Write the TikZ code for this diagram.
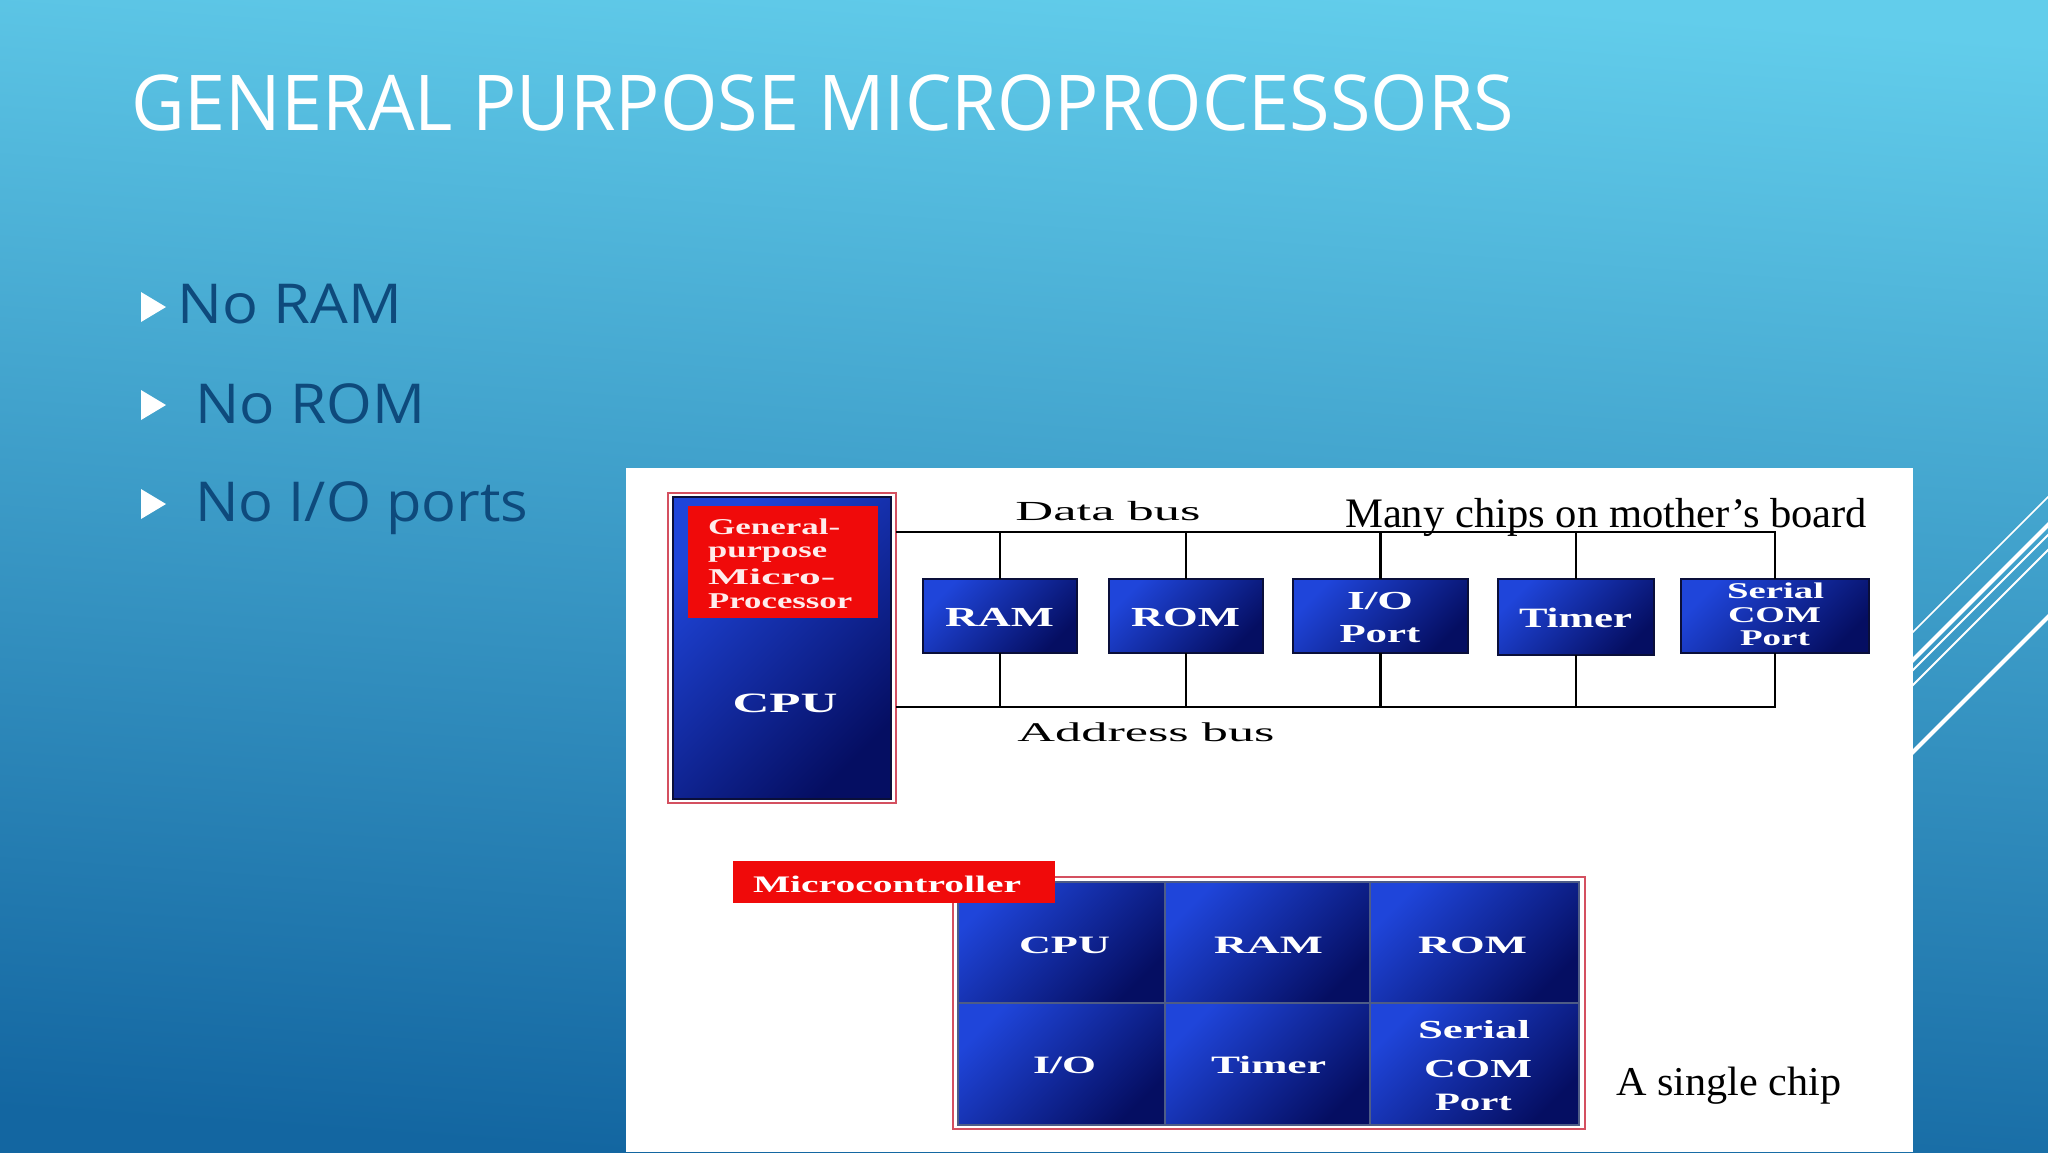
\documentclass[tikz,border=0pt]{standalone}
\usepackage{fontspec}
\usepackage{graphicx}
\setmainfont{Liberation Serif}
\newfontfamily\osans{Open Sans}
\definecolor{bgtop}{HTML}{62CDEB}
\definecolor{bgbot}{HTML}{1366A1}
\definecolor{bullettxt}{HTML}{0E4A7C}
\definecolor{chipA}{HTML}{1F45DA}
\definecolor{chipB}{HTML}{050E62}
\definecolor{chipedge}{HTML}{0A0F3A}
\definecolor{redlbl}{HTML}{F00A0A}
\definecolor{redline}{HTML}{D45060}
\definecolor{celledge}{HTML}{4E5C86}
\definecolor{pinkw}{HTML}{FFECEC}
\newcommand\fitw[2]{\resizebox{#1pt}{\height}{#2}}
\begin{document}
\begin{tikzpicture}[x=1pt,y=-1pt,
  box/.style={inner sep=0pt, outer sep=0pt, anchor=north west},
  chip/.style={box, draw=chipedge, line width=2pt, top color=chipA, bottom color=chipB, shading angle=45},
  cell/.style={box, draw=celledge, line width=2.5pt, top color=chipA, bottom color=chipB, shading angle=45},
  redframe/.style={box, draw=redline, line width=1.5pt, fill=white},
  redtag/.style={box, fill=redlbl},
  lblb/.style={inner sep=0pt, anchor=base, text=white, font=\fontsize{#1}{#1}\selectfont\bfseries},
  lblr/.style={inner sep=0pt, anchor=base, text=black, font=\fontsize{#1}{#1}\selectfont},
  bus/.style={draw=black, line width=2.5pt},
  deco/.style={draw=white},
  bullettext/.style={inner sep=0pt, anchor=base west, text=bullettxt, font=\osans\fontsize{55}{60}\selectfont}
]
\useasboundingbox (0,0) rectangle (2048,1152);
% background
\shade[top color=bgtop, bottom color=bgbot, shading angle=-4] (0,0) rectangle (2048,1152);
% decorative lines
\begin{scope}
\clip (0,0) rectangle (2048,1152);
\draw[deco, line width=1.6pt] (1860,685) -- (2060,485);
\draw[deco, line width=4pt] (1860,713) -- (2060,513);
\draw[deco, line width=2pt] (1860,723) -- (2060,523);
\draw[deco, line width=2pt] (1860,738) -- (2060,538);
\draw[deco, line width=4pt] (1860,805) -- (2060,605);
\end{scope}
% title
\node[inner sep=0pt, anchor=base west, text=white, font=\osans\fontsize{77}{80}\selectfont] (title) at (131,130) {\fitw{1383}{GENERAL PURPOSE MICROPROCESSORS}};
% bullets
\fill[white] (141,292) -- (141,322) -- (166,307) -- cycle;
\fill[white] (141,390) -- (141,420) -- (166,405) -- cycle;
\fill[white] (141,489) -- (141,519) -- (166,504) -- cycle;
\node[bullettext] (b1) at (177,323) {\fitw{225}{No RAM}};
\node[bullettext] (b2) at (195,423) {\fitw{230}{No ROM}};
\node[bullettext] (b3) at (195,521) {\fitw{333}{No I/O ports}};
% white panel
\node[box, fill=white, minimum width=1287pt, minimum height=684pt] (panel) at (626,468) {};
% CPU block
\node[redframe, minimum width=228pt, minimum height=310pt] (cpuo) at (668,493) {};
\node[chip, minimum width=218pt, minimum height=302pt] (cpui) at (673,497) {};
\node[redtag, minimum width=190pt, minimum height=112pt] (gptag) at (688,506) {};
\node[lblb=22.6, anchor=base west, text=pinkw] (g1) at (708,534) {\fitw{132}{General-}};
\node[lblb=22.6, anchor=base west, text=pinkw] (g2) at (708,557) {\fitw{119}{purpose}};
\node[lblb=22.6, anchor=base west, text=pinkw] (g3) at (708,584) {\fitw{127}{Micro-}};
\node[lblb=22.6, anchor=base west, text=pinkw] (g4) at (708,608) {\fitw{144}{Processor}};
\node[lblb=28] (cpulbl) at (785,712) {\fitw{105}{CPU}};
% chips
\node[chip, minimum width=154pt, minimum height=74pt] (ram) at (923,579) {};
\node[chip, minimum width=154pt, minimum height=74pt] (rom) at (1109,579) {};
\node[chip, minimum width=175pt, minimum height=74pt] (io) at (1293,579) {};
\node[chip, minimum width=156pt, minimum height=76pt] (timer) at (1498,579) {};
\node[chip, minimum width=188pt, minimum height=74pt] (serial) at (1681,579) {};
\node[lblb=27.6] (tram) at (999.5,626) {\fitw{109}{RAM}};
\node[lblb=27.6] (trom) at (1185.5,626) {\fitw{109}{ROM}};
\node[lblb=26] (tio1) at (1380,609) {\fitw{66}{I/O}};
\node[lblb=26] (tio2) at (1380,642) {\fitw{81}{Port}};
\node[lblb=28] (ttim) at (1575.5,627) {\fitw{113}{Timer}};
\node[lblb=22.5] (tser1) at (1775.5,598) {\fitw{97}{Serial}};
\node[lblb=22.5] (tser2) at (1774.5,622) {\fitw{93}{COM}};
\node[lblb=22.5] (tser3) at (1775,645) {\fitw{70}{Port}};
% buses
\coordinate (dbY) at (0,532);
\coordinate (abY) at (0,707);
\draw[bus] (cpuo.east |- dbY) -- (serial.north |- dbY) -- (serial.north);
\draw[bus] (ram.north |- dbY) -- (ram.north);
\draw[bus] (rom.north |- dbY) -- (rom.north);
\draw[bus] (io.north |- dbY) -- (io.north);
\draw[bus] (timer.north |- dbY) -- (timer.north);
\draw[bus] (cpuo.east |- abY) -- (serial.south |- abY) -- (serial.south);
\draw[bus] (ram.south |- abY) -- (ram.south);
\draw[bus] (rom.south |- abY) -- (rom.south);
\draw[bus] (io.south |- abY) -- (io.south);
\draw[bus] (timer.south |- abY) -- (timer.south);
\node[lblr=27.6] (tdb) at (1108,520) {\fitw{185}{Data bus}};
\node[lblr=27] (tab) at (1146,741) {\fitw{257}{Address bus}};
\node[lblr=42, anchor=base west] (many) at (1345,527) {\fitw{522}{Many chips on mother’s board}};
% microcontroller
\node[redframe, minimum width=632pt, minimum height=252pt] (mco) at (953,877) {};
\node[cell, minimum width=207pt, minimum height=121pt] (c11) at (958,882) {};
\node[cell, minimum width=205pt, minimum height=121pt] (c12) at (1165,882) {};
\node[cell, minimum width=209pt, minimum height=121pt] (c13) at (1370,882) {};
\node[cell, minimum width=207pt, minimum height=122pt] (c21) at (958,1003) {};
\node[cell, minimum width=205pt, minimum height=122pt] (c22) at (1165,1003) {};
\node[cell, minimum width=209pt, minimum height=122pt] (c23) at (1370,1003) {};
\node[redtag, minimum width=322pt, minimum height=42pt] (mctag) at (733,861) {};
\node[lblb=23.7] (tmc) at (887,892) {\fitw{268}{Microcontroller}};
\node[lblb=25] (m11) at (1064.5,953) {\fitw{91}{CPU}};
\node[lblb=25] (m12) at (1268.5,953) {\fitw{109}{RAM}};
\node[lblb=25] (m13) at (1472.5,953) {\fitw{109}{ROM}};
\node[lblb=25] (m21) at (1064.5,1073) {\fitw{63}{I/O}};
\node[lblb=25] (m22) at (1268.5,1073) {\fitw{115}{Timer}};
\node[lblb=26] (m23a) at (1474,1038) {\fitw{112}{Serial}};
\node[lblb=26] (m23b) at (1478,1077) {\fitw{108}{COM}};
\node[lblb=25] (m23c) at (1473.5,1110) {\fitw{77}{Port}};
\node[lblr=41, anchor=base west] (single) at (1616,1095) {\fitw{225}{A single chip}};
\end{tikzpicture}
\end{document}
